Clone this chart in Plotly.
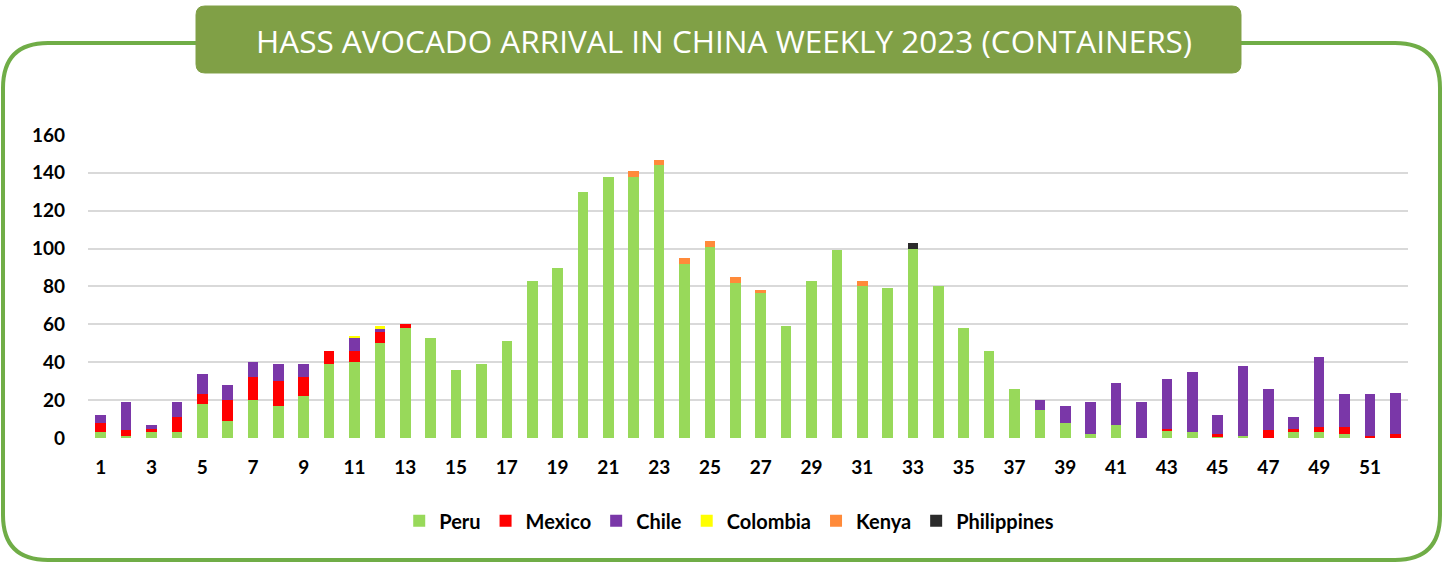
import plotly.graph_objects as go

weeks = list(range(1, 53))
peru = [3, 1, 3, 3, 18, 9, 20, 17, 22, 39, 40, 50, 58, 53, 36, 39, 51, 83, 90, 130,
        138, 138, 144, 92, 101, 82, 77, 59, 83, 99, 80, 79, 100, 80, 58, 46, 26, 15, 8, 2,
        7, 0, 4, 3, 1, 1, 0, 3, 3, 2, 0, 0]
mexico = [5, 3, 2, 8, 5, 11, 12, 13, 10, 7, 6, 6, 2, 0, 0, 0, 0, 0, 0, 0,
          0, 0, 0, 0, 0, 0, 0, 0, 0, 0, 0, 0, 0, 0, 0, 0, 0, 0, 0, 0,
          0, 0, 1, 0, 1, 0, 4, 2, 3, 4, 1, 2]
chile = [4, 15, 2, 8, 11, 8, 8, 9, 7, 0, 7, 2, 0, 0, 0, 0, 0, 0, 0, 0,
         0, 0, 0, 0, 0, 0, 0, 0, 0, 0, 0, 0, 0, 0, 0, 0, 0, 5, 9, 17,
         22, 19, 26, 32, 10, 37, 22, 6, 37, 17, 22, 22]
colombia = [0] * 10 + [1, 1] + [0] * 40
kenya = [0] * 21 + [3, 3, 3, 3, 3, 1, 0, 0, 0, 3] + [0] * 21
philippines = [0] * 32 + [3] + [0] * 19

series_names = ["Peru", "Mexico", "Chile", "Colombia", "Kenya", "Philippines"]
series_values = [peru, mexico, chile, colombia, kenya, philippines]
series_colors = ["#98D95A", "#FF0000", "#7A37A8", "#FFFF00", "#FF8A3A", "#2B2B2B"]
x_tick_vals = list(range(1, 53, 2))
y_tick_vals = [0, 20, 40, 60, 80, 100, 120, 140, 160]
title_text = "HASS AVOCADO ARRIVAL IN CHINA WEEKLY 2023 (CONTAINERS)"

W, H = 1444, 563
L, R, T, B = 88, 36, 134, 125
PW, PH = W - L - R, H - T - B


def px(x):
    return (x - L) / PW


def py(y):
    return (H - B - y) / PH


def rrect(x0, y0, x1, y1, r):
    pts = [
        ("M", (x0 + r, y0)), ("L", (x1 - r, y0)), ("Q", (x1, y0), (x1, y0 + r)),
        ("L", (x1, y1 - r)), ("Q", (x1, y1), (x1 - r, y1)), ("L", (x0 + r, y1)),
        ("Q", (x0, y1), (x0, y1 - r)), ("L", (x0, y0 + r)), ("Q", (x0, y0), (x0 + r, y0)),
    ]
    s = ""
    for item in pts:
        cmd = item[0]
        coords = " ".join(f"{px(a):.5f},{py(b):.5f}" for a, b in item[1:])
        s += f"{cmd} {coords} "
    return s + "Z"


fig = go.Figure()
for name, vals, col in zip(series_names, series_values, series_colors):
    fig.add_trace(go.Bar(x=weeks, y=vals, name=name, marker=dict(color=col, line=dict(width=0))))

fig.update_layout(
    width=W, height=H, autosize=False,
    margin=dict(l=L, r=R, t=T, b=B),
    barmode="stack", bargap=0.58,
    paper_bgcolor="white", plot_bgcolor="white",
    font=dict(family="Lato", color="black"),
    xaxis=dict(range=[0.5, 52.5], tickvals=x_tick_vals, showgrid=False, zeroline=False,
               showline=False, ticks="", ticklabelstandoff=16,
               tickfont=dict(family="Lato", size=19, weight="bold", color="black")),
    yaxis=dict(range=[0, 160.5], tickvals=y_tick_vals, showgrid=True, gridcolor="#D9D9D9",
               gridwidth=2, zeroline=False, showline=False, ticks="", ticklabelstandoff=22,
               tickfont=dict(family="Lato", size=19, weight="bold", color="black")),
    legend=dict(orientation="h", xref="container", yref="container", x=0.505, y=0.075,
                xanchor="center", yanchor="middle", traceorder="normal",
                font=dict(family="Lato", size=20, weight="bold", color="black"),
                itemwidth=30, entrywidth=0),
    showlegend=True,
    shapes=[
        dict(type="path", xref="paper", yref="paper", layer="below",
             path=rrect(3, 43, 1440, 560, 45), line=dict(color="#70AD47", width=4),
             fillcolor="rgba(0,0,0,0)"),
        dict(type="path", xref="paper", yref="paper", layer="below",
             path=rrect(196, 6, 1241, 73, 9), line=dict(color="#80A046", width=1),
             fillcolor="#80A046"),
    ],
    annotations=[
        dict(text=title_text, xref="paper", yref="paper", x=px(724), y=py(40),
             xanchor="center", yanchor="middle", showarrow=False,
             font=dict(family="Open Sans", size=31.5, color="white")),
    ],
)

fig.write_html("out.html", config={"displayModeBar": False},
               post_script="document.body.style.margin='0';")
